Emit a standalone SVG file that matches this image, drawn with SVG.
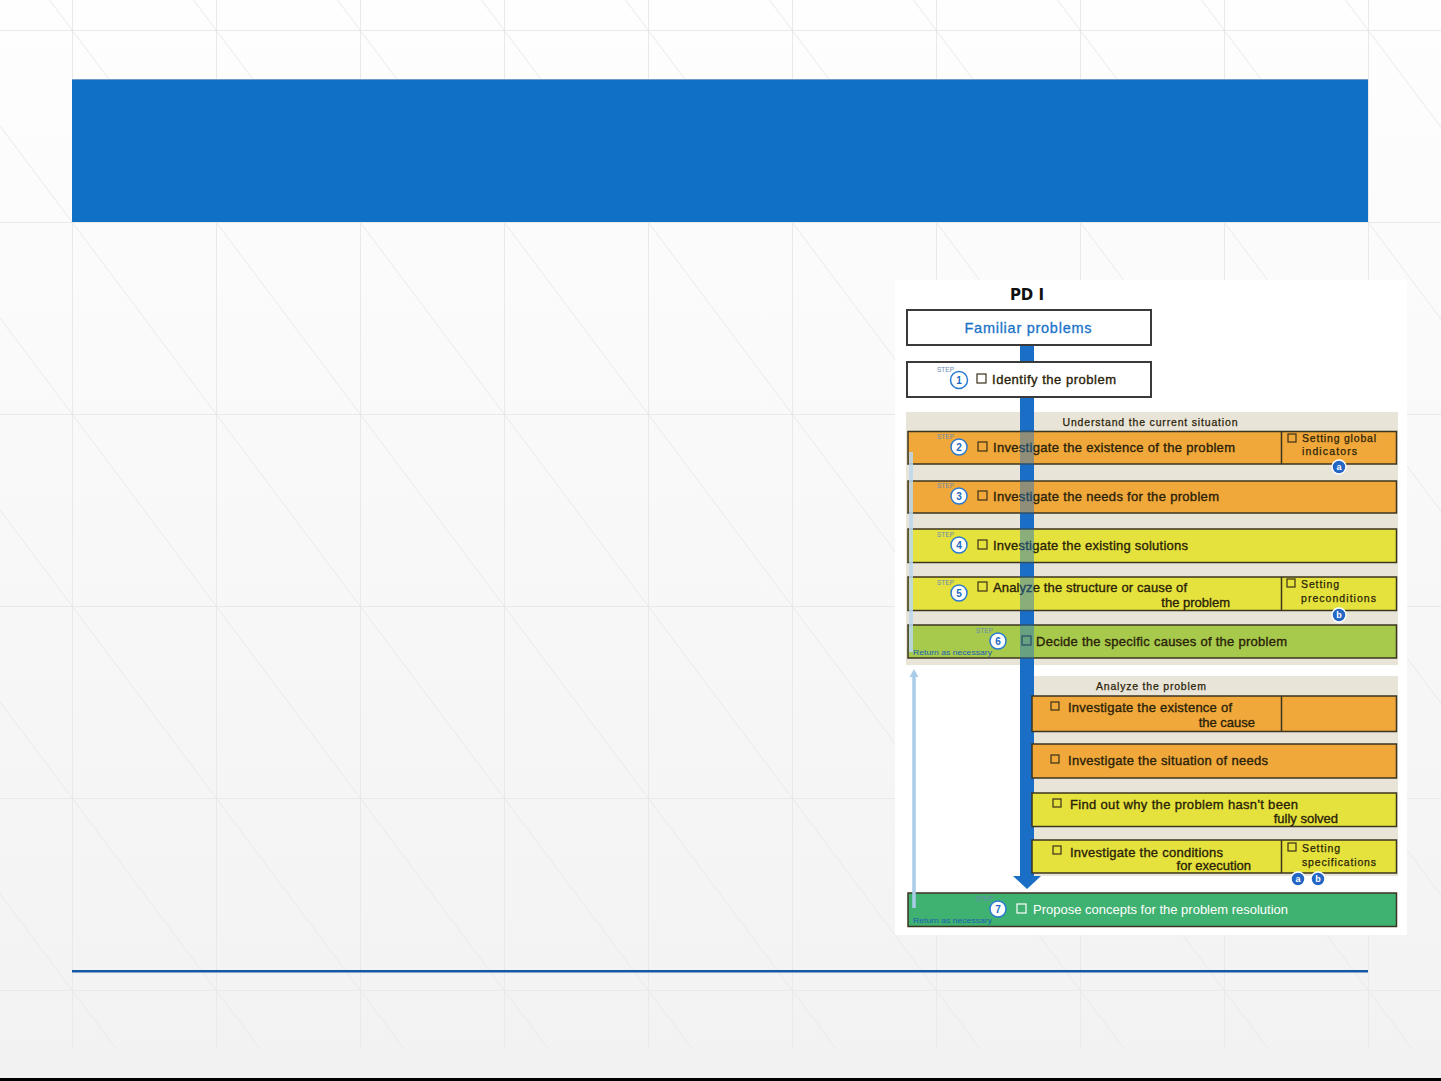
<svg xmlns="http://www.w3.org/2000/svg" width="1441" height="1081" viewBox="0 0 1441 1081">
<defs>
<linearGradient id="bg" x1="0" y1="0" x2="0" y2="1">
<stop offset="0" stop-color="#fefefe"/>
<stop offset="1" stop-color="#f2f2f2"/>
</linearGradient>
<pattern id="grid" x="72" y="30" width="144" height="192" patternUnits="userSpaceOnUse">
<path d="M0.5 0 V192 M0 0.5 H144 M0 0 L144 192" fill="none" stroke="#e9e9e9" stroke-width="1"/>
</pattern>
<style>
.t{font-family:"Liberation Sans",Arial,sans-serif;font-size:13px;fill:#2a2208;stroke:#2a2208;stroke-width:0.35}
.s{font-family:"Liberation Sans",Arial,sans-serif;font-size:10.5px;fill:#2a2208;stroke:#2a2208;stroke-width:0.25}
.row{stroke:#3b3520;stroke-width:1.5}
.or{fill:#f1a83a}
.ye{fill:#e5e23d}
.yg{fill:#a7ca4c}
.gr{fill:#3fb170}
.sec{fill:#e8e4d7}
.cb{fill:none;stroke:#3a3018;stroke-width:1.2}
.sc{fill:#fff;stroke:#2a7ad0;stroke-width:1.5}
.sn{font-family:"Liberation Sans",Arial,sans-serif;font-weight:bold;font-size:10px;fill:#1e6ac0;text-anchor:middle}
.st{font-family:"Liberation Sans",Arial,sans-serif;font-size:6.5px;fill:#6a8ab0}
.dot{fill:#2466c4;stroke:#fff;stroke-width:1.5}
.dl{font-family:"Liberation Sans",Arial,sans-serif;font-weight:bold;font-size:9px;fill:#fff;text-anchor:middle}
.ret{font-family:"Liberation Sans",Arial,sans-serif;font-size:7px;fill:#2060b0}
.box{fill:#fff;stroke:#3a3a3a;stroke-width:2}
</style>
</defs>
<rect x="0" y="0" width="1441" height="1081" fill="url(#bg)"/>
<rect x="0" y="0" width="1441" height="1048" fill="url(#grid)"/>
<rect x="0" y="1078" width="1441" height="3" fill="#000"/>
<rect x="72" y="79" width="1296" height="143" fill="#1070c4"/>
<rect x="72" y="79" width="1296" height="1" fill="#7399c8"/>
<rect x="72" y="970" width="1296" height="2.5" fill="#1459a3"/>

<rect x="895" y="280" width="512" height="655" fill="#fff"/>
<text x="1027" y="300" text-anchor="middle" font-family="'DejaVu Sans',sans-serif" font-weight="bold" font-size="15" fill="#111">PD I</text>

<rect class="sec" x="906" y="412" width="492" height="253"/>
<rect class="sec" x="1032" y="676" width="366" height="200"/>

<g id="connectors">
<rect x="1020" y="345" width="14" height="531" fill="#1a6ec6"/>
<polygon points="1013,876 1041,876 1027,889" fill="#1a6ec6"/>
</g>

<g id="familiar">
<rect class="box" x="907" y="310" width="244" height="35"/>
<text x="1028" y="333" text-anchor="middle" font-family="'Liberation Sans',Arial,sans-serif" font-size="14.5" fill="#1a73c8" stroke="#1a73c8" stroke-width="0.3" textLength="127">Familiar problems</text>
</g>
<g id="step1">
<rect class="box" x="907" y="362" width="244" height="35"/>
<text class="st" x="937" y="372">STEP</text>
<circle class="sc" cx="959" cy="380" r="8.5"/>
<text class="sn" x="959" y="384">1</text>
<rect class="cb" x="977" y="374" width="9" height="9"/>
<text class="t" x="992" y="384" textLength="124">Identify the problem</text>
</g>

<text class="s" x="1150" y="426" text-anchor="middle" textLength="175">Understand the current situation</text>

<g id="step2">
<rect class="row or" x="908" y="431.5" width="488.5" height="32.5"/>
<line class="row" x1="1281.5" y1="431.5" x2="1281.5" y2="464"/>
<text class="st" x="937" y="439">STEP</text>
<circle class="sc" cx="959" cy="447" r="8"/>
<text class="sn" x="959" y="451">2</text>
<rect class="cb" x="978" y="442" width="9" height="9"/>
<text class="t" x="993" y="452" textLength="242">Investigate the existence of the problem</text>
<rect class="cb" x="1288" y="434" width="8" height="8"/>
<text class="s" x="1302" y="442" textLength="74">Setting global</text>
<text class="s" x="1302" y="455" textLength="55">indicators</text>
</g>
<g id="step3">
<rect class="row or" x="908" y="481" width="488.5" height="32"/>
<text class="st" x="937" y="488">STEP</text>
<circle class="sc" cx="959" cy="496" r="8"/>
<text class="sn" x="959" y="500">3</text>
<rect class="cb" x="978" y="491" width="9" height="9"/>
<text class="t" x="993" y="501" textLength="226">Investigate the needs for the problem</text>
</g>
<g id="step4">
<rect class="row ye" x="908" y="529" width="488.5" height="33.5"/>
<text class="st" x="937" y="537">STEP</text>
<circle class="sc" cx="959" cy="545" r="8"/>
<text class="sn" x="959" y="549">4</text>
<rect class="cb" x="978" y="540" width="9" height="9"/>
<text class="t" x="993" y="550" textLength="195">Investigate the existing solutions</text>
</g>
<g id="step5">
<rect class="row ye" x="908" y="577" width="488.5" height="33.5"/>
<line class="row" x1="1281.5" y1="577" x2="1281.5" y2="610.5"/>
<text class="st" x="937" y="585">STEP</text>
<circle class="sc" cx="959" cy="593" r="8"/>
<text class="sn" x="959" y="597">5</text>
<rect class="cb" x="978" y="582" width="9" height="9"/>
<text class="t" x="993" y="592" textLength="194">Analyze the structure or cause of</text>
<text class="t" x="1230" y="607" text-anchor="end">the problem</text>
<rect class="cb" x="1287" y="579" width="8" height="8"/>
<text class="s" x="1301" y="588" textLength="38">Setting</text>
<text class="s" x="1301" y="602" textLength="75">preconditions</text>
</g>
<g id="step6">
<rect class="row yg" x="908" y="625" width="488.5" height="33"/>
<text class="st" x="976" y="633">STEP</text>
<circle class="sc" cx="998" cy="641" r="8"/>
<text class="sn" x="998" y="645">6</text>
<rect class="cb" x="1022" y="636" width="9" height="9"/>
<text class="t" x="1036" y="646" textLength="251">Decide the specific causes of the problem</text>
<text class="ret" x="913" y="655" textLength="79" lengthAdjust="spacingAndGlyphs">Return as necessary</text>
</g>

<text class="s" x="1151" y="690" text-anchor="middle" textLength="110">Analyze the problem</text>

<g id="cause">
<rect class="row or" x="1032" y="696" width="364.5" height="35.5"/>
<line class="row" x1="1281.5" y1="696" x2="1281.5" y2="731.5"/>
<rect class="cb" x="1051" y="702" width="8" height="8"/>
<text class="t" x="1068" y="712" textLength="164">Investigate the existence of</text>
<text class="t" x="1255" y="727" text-anchor="end">the cause</text>
</g>
<g id="needs">
<rect class="row or" x="1032" y="744" width="364.5" height="34"/>
<rect class="cb" x="1051" y="755" width="8" height="8"/>
<text class="t" x="1068" y="765" textLength="200">Investigate the situation of needs</text>
</g>
<g id="why">
<rect class="row ye" x="1032" y="793" width="364.5" height="33.5"/>
<rect class="cb" x="1053" y="799" width="8" height="8"/>
<text class="t" x="1070" y="809" textLength="228">Find out why the problem hasn't been</text>
<text class="t" x="1338" y="823" text-anchor="end">fully solved</text>
</g>
<g id="conditions">
<rect class="row ye" x="1032" y="840" width="364.5" height="33"/>
<line class="row" x1="1281.5" y1="840" x2="1281.5" y2="873"/>
<rect class="cb" x="1053" y="846" width="8" height="8"/>
<text class="t" x="1070" y="857" textLength="153">Investigate the conditions</text>
<text class="t" x="1251" y="870" text-anchor="end">for execution</text>
<rect class="cb" x="1288" y="843" width="8" height="8"/>
<text class="s" x="1302" y="852" textLength="38">Setting</text>
<text class="s" x="1302" y="866" textLength="74">specifications</text>
</g>
<g id="step7">
<rect class="row gr" x="908" y="893" width="488.5" height="33.5"/>
<text class="st" x="976" y="901">STEP</text>
<circle class="sc" cx="998" cy="909" r="8"/>
<text class="sn" x="998" y="913">7</text>
<rect class="cb" x="1017" y="904" width="9" height="9" style="stroke:#fff"/>
<text class="t" x="1033" y="914" textLength="255" style="fill:#fff;stroke:none">Propose concepts for the problem resolution</text>
<text class="ret" x="913" y="923" textLength="79" lengthAdjust="spacingAndGlyphs">Return as necessary</text>
</g>

<g id="overlay">
<rect x="1020" y="431" width="14" height="228" fill="#1a6ec6" opacity="0.45"/>
<line x1="911" y1="452" x2="911" y2="652" stroke="#bcd9ef" stroke-width="4" opacity="0.85"/>
<line x1="914" y1="675" x2="914" y2="908" stroke="#a9cde9" stroke-width="3.5"/>
<polygon points="909.5,677 918.5,677 914,669" fill="#a9cde9"/>
</g>

<g id="dots">
<circle class="dot" cx="1339" cy="467" r="7"/>
<text class="dl" x="1339" y="470">a</text>
<circle class="dot" cx="1339" cy="615" r="7"/>
<text class="dl" x="1339" y="618">b</text>
<circle class="dot" cx="1298" cy="879" r="7"/>
<text class="dl" x="1298" y="882">a</text>
<circle class="dot" cx="1318" cy="879" r="7"/>
<text class="dl" x="1318" y="882">b</text>
</g>
</svg>
